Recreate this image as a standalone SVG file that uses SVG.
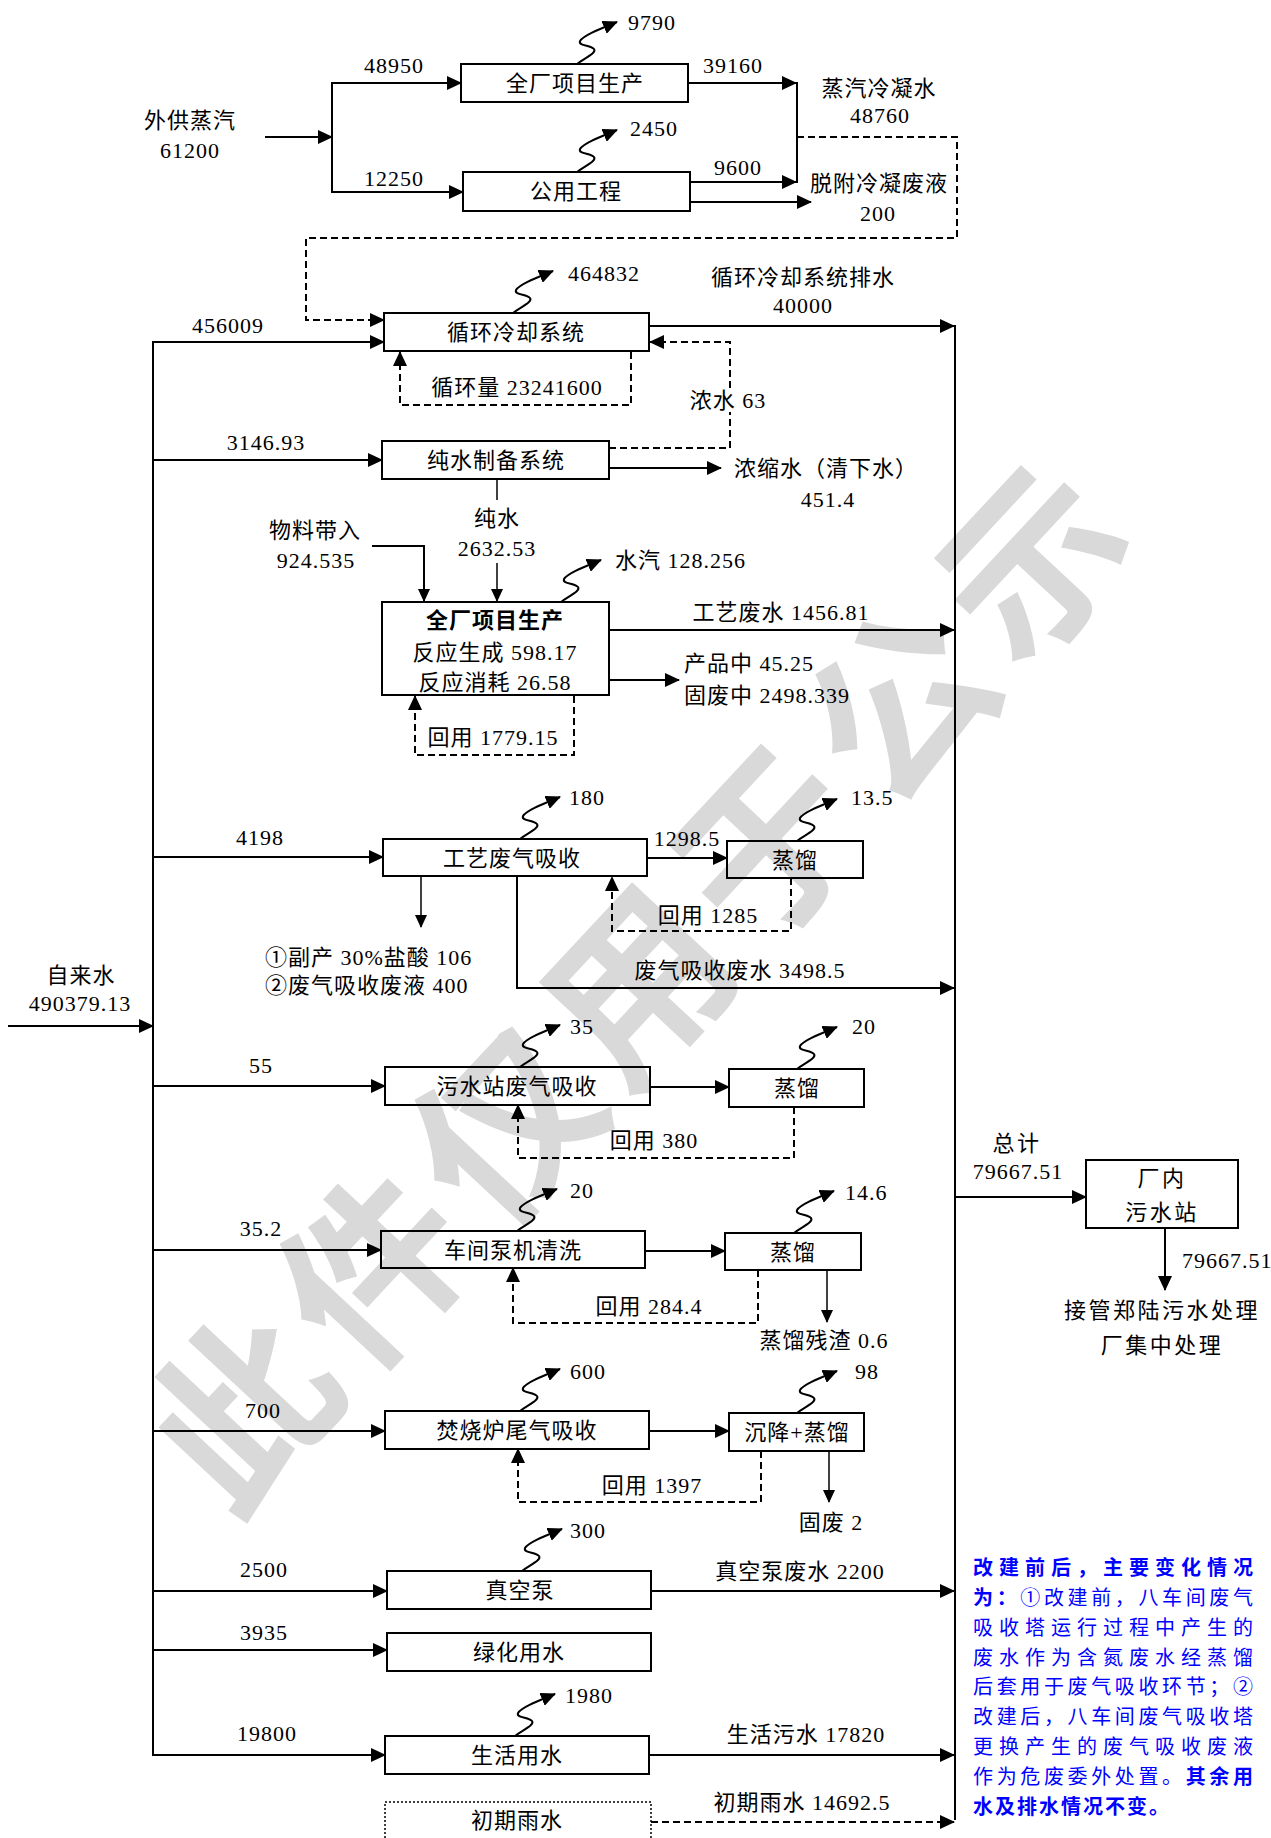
<svg xmlns="http://www.w3.org/2000/svg" width="1271" height="1838" viewBox="0 0 1271 1838">
<defs>
<style>
.ln{stroke:#000;stroke-width:2;fill:none}
.th{stroke:#000;stroke-width:1.5;fill:none}
.ds{stroke:#000;stroke-width:2;fill:none;stroke-dasharray:7 4}
.bx{stroke:#000;stroke-width:2;fill:none}
.dot{stroke:#000;stroke-width:1.5;fill:none;stroke-dasharray:2 2}
.sq{stroke:#000;stroke-width:2;fill:none}
.t{font-family:"Liberation Serif","Noto Sans CJK SC",serif;font-size:22px;fill:#000;text-anchor:middle;letter-spacing:1px}
.s{text-anchor:start}
.b{font-weight:bold}
.r{letter-spacing:2.5px}
.bl{font-family:"Noto Sans CJK SC",sans-serif;font-size:20px;fill:#0000ff}
.wm{font-family:"Noto Sans CJK SC",sans-serif;font-size:180px;font-weight:bold;fill:#d9d9d9;text-anchor:middle;letter-spacing:13px}
</style>
<marker id="ah" viewBox="0 0 15 14" markerWidth="15" markerHeight="14" refX="14" refY="7" orient="auto" markerUnits="userSpaceOnUse"><path d="M0,0 L15,7 L0,14 z" fill="#000"/></marker>
<marker id="as" viewBox="0 0 13 12" markerWidth="13" markerHeight="12" refX="12" refY="6" orient="auto" markerUnits="userSpaceOnUse"><path d="M0,0 L13,6 L0,12 z" fill="#000"/></marker>
</defs>
<rect width="1271" height="1838" fill="#fff"/>

<g id="watermark">
<text class="wm" x="633" y="973" dominant-baseline="central" transform="rotate(-47 633 973)">此件仅用于公示</text>
</g>

<g id="connectors">
<!-- steam section -->
<line class="ln" x1="265" y1="137" x2="332" y2="137" marker-end="url(#ah)"/>
<line class="ln" x1="332" y1="82" x2="332" y2="193"/>
<line class="ln" x1="332" y1="83" x2="461" y2="83" marker-end="url(#ah)"/>
<line class="ln" x1="332" y1="192" x2="463" y2="192" marker-end="url(#ah)"/>
<line class="ln" x1="688" y1="83" x2="796" y2="83" marker-end="url(#ah)"/>
<line class="ln" x1="690" y1="182" x2="796" y2="182" marker-end="url(#ah)"/>
<line class="ln" x1="690" y1="202" x2="811" y2="202" marker-end="url(#ah)"/>
<line class="ln" x1="797" y1="82" x2="797" y2="183"/>
<path class="ds" d="M797,137 H957 V238 H306 V320 H384" marker-end="url(#ah)"/>
<path class="sq" d="M577,64 c 8,-6 20,-11 17,-15 c -3,-4 -16,-3 -14,-8 c 4,-6 20,-12 37,-19" marker-end="url(#ah)"/>
<path class="sq" d="M577,172 c 8,-6 20,-11 17,-15 c -3,-4 -16,-3 -14,-8 c 4,-6 20,-12 37,-19" marker-end="url(#ah)"/>

<!-- buses -->
<line class="ln" x1="153" y1="341" x2="153" y2="1756"/>
<line class="ln" x1="955" y1="325" x2="955" y2="1820"/>
<line class="ln" x1="8" y1="1026" x2="153" y2="1026" marker-end="url(#ah)"/>

<!-- cooling -->
<line class="ln" x1="153" y1="342" x2="384" y2="342" marker-end="url(#ah)"/>
<path class="sq" d="M513,313 c 8,-6 20,-11 17,-15 c -3,-4 -16,-3 -14,-8 c 4,-6 20,-12 37,-19" marker-end="url(#ah)"/>
<line class="ln" x1="649" y1="326" x2="954" y2="326" marker-end="url(#ah)"/>
<path class="ds" d="M631,352 V405 H400 V352" marker-end="url(#ah)"/>
<path class="ds" d="M609,448 H730 V412"/>
<path class="ds" d="M730,388 V342 H650" marker-end="url(#ah)"/>

<!-- pure water -->
<line class="ln" x1="153" y1="460" x2="382" y2="460" marker-end="url(#ah)"/>
<line class="ln" x1="609" y1="468" x2="721" y2="468" marker-end="url(#ah)"/>
<line class="th" x1="497" y1="479" x2="497" y2="500"/>
<line class="th" x1="497" y1="563" x2="497" y2="601" marker-end="url(#as)"/>
<path class="ln" d="M372,546 H424 V601" marker-end="url(#as)"/>

<!-- production -->
<path class="sq" d="M561,602 c 8,-6 20,-11 17,-15 c -3,-4 -16,-3 -14,-8 c 4,-6 20,-12 37,-19" marker-end="url(#ah)"/>
<line class="ln" x1="609" y1="630" x2="954" y2="630" marker-end="url(#ah)"/>
<line class="ln" x1="609" y1="680" x2="679" y2="680" marker-end="url(#ah)"/>
<path class="ds" d="M574,696 V755 H415 V696" marker-end="url(#ah)"/>

<!-- process gas absorption -->
<line class="ln" x1="153" y1="857" x2="383" y2="857" marker-end="url(#ah)"/>
<path class="sq" d="M520,839 c 8,-6 20,-11 17,-15 c -3,-4 -16,-3 -14,-8 c 4,-6 20,-12 37,-19" marker-end="url(#ah)"/>
<line class="ln" x1="647" y1="858" x2="727" y2="858" marker-end="url(#ah)"/>
<path class="sq" d="M797,841 c 8,-6 20,-11 17,-15 c -3,-4 -16,-3 -14,-8 c 4,-6 20,-12 37,-19" marker-end="url(#ah)"/>
<path class="ds" d="M791,878 V931 H612 V877" marker-end="url(#ah)"/>
<line class="th" x1="421" y1="876" x2="421" y2="927" marker-end="url(#as)"/>
<path class="ln" d="M517,876 V988 H954" marker-end="url(#ah)"/>

<!-- sewage station gas absorption -->
<line class="ln" x1="153" y1="1086" x2="385" y2="1086" marker-end="url(#ah)"/>
<path class="sq" d="M520,1067 c 8,-6 20,-11 17,-15 c -3,-4 -16,-3 -14,-8 c 4,-6 20,-12 37,-19" marker-end="url(#ah)"/>
<line class="ln" x1="650" y1="1087" x2="729" y2="1087" marker-end="url(#ah)"/>
<path class="sq" d="M797,1069 c 8,-6 20,-11 17,-15 c -3,-4 -16,-3 -14,-8 c 4,-6 20,-12 37,-19" marker-end="url(#ah)"/>
<path class="ds" d="M794,1107 V1158 H518 V1105" marker-end="url(#ah)"/>

<!-- workshop pump cleaning -->
<line class="ln" x1="153" y1="1250" x2="381" y2="1250" marker-end="url(#ah)"/>
<path class="sq" d="M517,1231 c 8,-6 20,-11 17,-15 c -3,-4 -16,-3 -14,-8 c 4,-6 20,-12 37,-19" marker-end="url(#ah)"/>
<line class="ln" x1="645" y1="1251" x2="725" y2="1251" marker-end="url(#ah)"/>
<path class="sq" d="M794,1233 c 8,-6 20,-11 17,-15 c -3,-4 -16,-3 -14,-8 c 4,-6 20,-12 37,-19" marker-end="url(#ah)"/>
<path class="ds" d="M758,1270 V1323 H513 V1268" marker-end="url(#ah)"/>
<line class="th" x1="827" y1="1270" x2="827" y2="1322" marker-end="url(#as)"/>

<!-- incinerator -->
<line class="ln" x1="153" y1="1431" x2="385" y2="1431" marker-end="url(#ah)"/>
<path class="sq" d="M520,1411 c 8,-6 20,-11 17,-15 c -3,-4 -16,-3 -14,-8 c 4,-6 20,-12 37,-19" marker-end="url(#ah)"/>
<line class="ln" x1="649" y1="1431" x2="729" y2="1431" marker-end="url(#ah)"/>
<path class="sq" d="M797,1413 c 8,-6 20,-11 17,-15 c -3,-4 -16,-3 -14,-8 c 4,-6 20,-12 37,-19" marker-end="url(#ah)"/>
<path class="ds" d="M761,1451 V1502 H518 V1449" marker-end="url(#ah)"/>
<line class="th" x1="829" y1="1451" x2="829" y2="1502" marker-end="url(#as)"/>

<!-- vacuum pump -->
<path class="sq" d="M522,1571 c 8,-6 20,-11 17,-15 c -3,-4 -16,-3 -14,-8 c 4,-6 20,-12 37,-19" marker-end="url(#ah)"/>
<line class="ln" x1="153" y1="1591" x2="387" y2="1591" marker-end="url(#ah)"/>
<line class="ln" x1="651" y1="1591" x2="954" y2="1591" marker-end="url(#ah)"/>

<!-- greening -->
<line class="ln" x1="153" y1="1650" x2="387" y2="1650" marker-end="url(#ah)"/>

<!-- domestic -->
<path class="sq" d="M515,1736 c 8,-6 20,-11 17,-15 c -3,-4 -16,-3 -14,-8 c 4,-6 20,-12 37,-19" marker-end="url(#ah)"/>
<line class="ln" x1="153" y1="1755" x2="385" y2="1755" marker-end="url(#ah)"/>
<line class="ln" x1="649" y1="1755" x2="954" y2="1755" marker-end="url(#ah)"/>

<!-- rain -->
<line class="ds" x1="651" y1="1822" x2="954" y2="1822" marker-end="url(#ah)"/>

<!-- total -->
<line class="ln" x1="955" y1="1197" x2="1086" y2="1197" marker-end="url(#ah)"/>
<line class="ln" x1="1165" y1="1228" x2="1165" y2="1290" marker-end="url(#ah)"/>
</g>

<g id="labels">
<text class="t" x="190" y="128">外供蒸汽</text>
<text class="t" x="190" y="158">61200</text>
<text class="t" x="394" y="73">48950</text>
<text class="t" x="394" y="186">12250</text>
<text class="t s" x="628" y="30">9790</text>
<text class="t s" x="630" y="136">2450</text>
<text class="t" x="733" y="73">39160</text>
<text class="t" x="738" y="175">9600</text>
<text class="t" x="879" y="96">蒸汽冷凝水</text>
<text class="t" x="880" y="123">48760</text>
<text class="t" x="879" y="191">脱附冷凝废液</text>
<text class="t" x="878" y="221">200</text>

<text class="t" x="228" y="333">456009</text>
<text class="t s" x="568" y="281">464832</text>
<text class="t" x="803" y="285">循环冷却系统排水</text>
<text class="t" x="803" y="313">40000</text>
<text class="t" x="517" y="395">循环量 23241600</text>
<text class="t" x="728" y="408">浓水 63</text>
<text class="t" x="266" y="450">3146.93</text>
<text class="t" x="826" y="476">浓缩水（清下水）</text>
<text class="t" x="828" y="507">451.4</text>
<text class="t" x="497" y="526">纯水</text>
<text class="t" x="497" y="556">2632.53</text>
<text class="t" x="315" y="538">物料带入</text>
<text class="t" x="316" y="568">924.535</text>

<text class="t s" x="615" y="568">水汽 128.256</text>
<text class="t" x="781" y="620">工艺废水 1456.81</text>
<text class="t s" x="684" y="671">产品中 45.25</text>
<text class="t s" x="684" y="703">固废中 2498.339</text>
<text class="t" x="493" y="745">回用 1779.15</text>

<text class="t" x="260" y="845">4198</text>
<text class="t s" x="569" y="805">180</text>
<text class="t" x="687" y="846">1298.5</text>
<text class="t s" x="851" y="805">13.5</text>
<text class="t" x="708" y="923">回用 1285</text>
<text class="t s" x="265" y="965">①副产 30%盐酸 106</text>
<text class="t s" x="265" y="993">②废气吸收废液 400</text>
<text class="t" x="740" y="978">废气吸收废水 3498.5</text>
<text class="t" x="81" y="983">自来水</text>
<text class="t" x="80" y="1011">490379.13</text>

<text class="t" x="261" y="1073">55</text>
<text class="t s" x="570" y="1034">35</text>
<text class="t s" x="852" y="1034">20</text>
<text class="t" x="654" y="1148">回用 380</text>

<text class="t" x="261" y="1236">35.2</text>
<text class="t s" x="570" y="1198">20</text>
<text class="t s" x="845" y="1200">14.6</text>
<text class="t" x="649" y="1314">回用 284.4</text>
<text class="t" x="824" y="1348">蒸馏残渣 0.6</text>

<text class="t" x="263" y="1418">700</text>
<text class="t s" x="570" y="1379">600</text>
<text class="t s" x="855" y="1379">98</text>
<text class="t" x="652" y="1493">回用 1397</text>
<text class="t" x="831" y="1530">固废 2</text>

<text class="t s" x="570" y="1538">300</text>
<text class="t" x="264" y="1577">2500</text>
<text class="t" x="800" y="1579">真空泵废水 2200</text>
<text class="t" x="264" y="1640">3935</text>
<text class="t s" x="565" y="1703">1980</text>
<text class="t" x="267" y="1741">19800</text>
<text class="t" x="806" y="1742">生活污水 17820</text>
<text class="t" x="802" y="1810">初期雨水 14692.5</text>

<text class="t r" x="1017" y="1151">总计</text>
<text class="t" x="1018" y="1179">79667.51</text>
<text class="t s" x="1182" y="1268">79667.51</text>
<text class="t r" x="1162" y="1318">接管郑陆污水处理</text>
<text class="t r" x="1162" y="1353">厂集中处理</text>
</g>

<g id="n-steam-prod"><rect class="bx" x="461" y="64" width="227" height="38"/><text class="t" x="575" y="91">全厂项目生产</text></g>
<g id="n-utility"><rect class="bx" x="463" y="172" width="227" height="39"/><text class="t" x="576" y="199">公用工程</text></g>
<g id="n-cooling"><rect class="bx" x="384" y="313" width="265" height="38"/><text class="t" x="516" y="340">循环冷却系统</text></g>
<g id="n-purewater"><rect class="bx" x="382" y="441" width="227" height="38"/><text class="t" x="496" y="468">纯水制备系统</text></g>
<g id="n-production"><rect class="bx" x="382" y="602" width="227" height="93"/>
<text class="t b" x="495" y="628">全厂项目生产</text>
<text class="t" x="495" y="660">反应生成 598.17</text>
<text class="t" x="495" y="690">反应消耗 26.58</text></g>
<g id="n-procgas"><rect class="bx" x="383" y="839" width="264" height="37"/><text class="t" x="512" y="866">工艺废气吸收</text></g>
<g id="n-distill1"><rect class="bx" x="727" y="841" width="136" height="37"/><text class="t" x="795" y="868">蒸馏</text></g>
<g id="n-sewgas"><rect class="bx" x="385" y="1067" width="265" height="38"/><text class="t" x="517" y="1094">污水站废气吸收</text></g>
<g id="n-distill2"><rect class="bx" x="729" y="1069" width="135" height="38"/><text class="t" x="797" y="1096">蒸馏</text></g>
<g id="n-pumpwash"><rect class="bx" x="381" y="1231" width="264" height="37"/><text class="t" x="513" y="1258">车间泵机清洗</text></g>
<g id="n-distill3"><rect class="bx" x="725" y="1233" width="136" height="37"/><text class="t" x="793" y="1260">蒸馏</text></g>
<g id="n-incin"><rect class="bx" x="385" y="1411" width="264" height="38"/><text class="t" x="517" y="1438">焚烧炉尾气吸收</text></g>
<g id="n-settle"><rect class="bx" x="729" y="1413" width="135" height="38"/><text class="t" x="797" y="1440">沉降+蒸馏</text></g>
<g id="n-vacuum"><rect class="bx" x="387" y="1571" width="264" height="38"/><text class="t" x="520" y="1598">真空泵</text></g>
<g id="n-green"><rect class="bx" x="387" y="1633" width="264" height="38"/><text class="t" x="519" y="1660">绿化用水</text></g>
<g id="n-domestic"><rect class="bx" x="385" y="1736" width="264" height="38"/><text class="t" x="517" y="1763">生活用水</text></g>
<g id="n-rain"><rect class="dot" x="385" y="1802" width="266" height="50"/><text class="t" x="517" y="1828">初期雨水</text></g>
<g id="n-wwtp"><rect class="bx" x="1086" y="1160" width="152" height="68"/>
<text class="t r" x="1162" y="1186">厂内</text>
<text class="t r" x="1162" y="1220">污水站</text></g>

<g id="note">
<text class="bl b" x="973" y="1575" textLength="280" lengthAdjust="spacing">改建前后，主要变化情况</text>
<text class="bl" x="973" y="1605" textLength="280" lengthAdjust="spacing"><tspan font-weight="bold">为：</tspan>①改建前，八车间废气</text>
<text class="bl" x="973" y="1635" textLength="280" lengthAdjust="spacing">吸收塔运行过程中产生的</text>
<text class="bl" x="973" y="1665" textLength="280" lengthAdjust="spacing">废水作为含氮废水经蒸馏</text>
<text class="bl" x="973" y="1694" textLength="280" lengthAdjust="spacing">后套用于废气吸收环节；②</text>
<text class="bl" x="973" y="1724" textLength="280" lengthAdjust="spacing">改建后，八车间废气吸收塔</text>
<text class="bl" x="973" y="1754" textLength="280" lengthAdjust="spacing">更换产生的废气吸收废液</text>
<text class="bl" x="973" y="1784" textLength="280" lengthAdjust="spacing">作为危废委外处置。<tspan font-weight="bold">其余用</tspan></text>
<text class="bl b" x="973" y="1814" letter-spacing="2">水及排水情况不变。</text>
</g>
</svg>
